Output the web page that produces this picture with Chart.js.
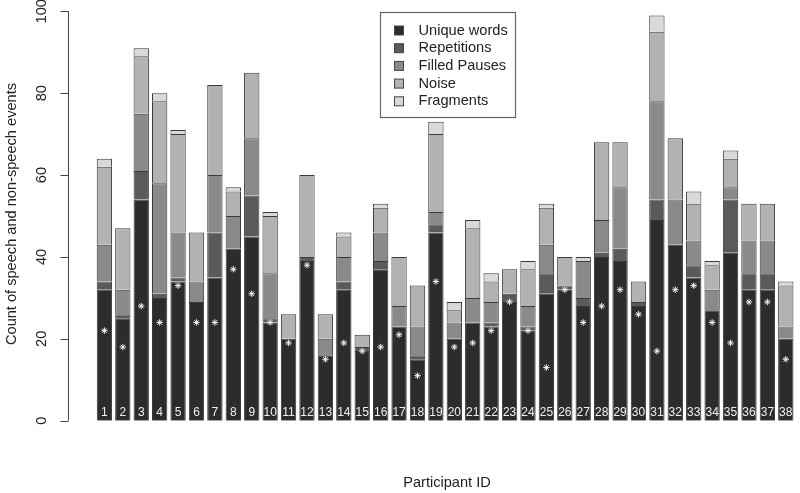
<!DOCTYPE html>
<html><head><meta charset="utf-8">
<script src="https://cdn.jsdelivr.net/npm/chart.js@4"></script>
<style>html,body{margin:0;padding:0;background:#fff}canvas{display:block}</style>
</head><body><canvas id="c" width="800" height="493"></canvas>
<script>
const participants = ['1','2','3','4','5','6','7','8','9','10','11','12','13','14','15','16','17','18','19','20','21','22','23','24','25','26','27','28','29','30','31','32','33','34','35','36','37','38'];
const uniqueWords  = [32,25,54,30,34,29,35,42,45,24,20,39,16,32,17,37,23,15,46,20,24,23,29,22,31,32,28,40,39,28,49,43,35,27,41,32,32,20];
const repetitions  = [2,1,7,1,1,0,11,0,10,1,0,1,0,2,1,2,0,1,2,0,0,1,2,1,5,1,2,1,3,1,5,0,3,0,13,4,4,0];
const filledPauses = [9,6,14,27,11,5,14,8,14,11,0,0,4,6,0,7,5,7,3,4,6,5,0,5,7,0,9,8,15,0,24,11,6,5,3,8,8,3];
const noise        = [19,15,14,20,24,12,22,6,16,14,6,20,6,5,3,6,12,10,19,3,17,5,6,9,9,7,0,19,11,5,17,15,9,6,7,9,9,10];
const fragments    = [2,0,2,2,1,0,0,1,0,1,0,0,0,1,0,1,0,0,3,2,2,2,0,2,1,0,1,0,0,0,4,0,3,1,2,0,0,1];
const asteriskValues = [22,18,28,24,33,24,24,37,31,24,19,38,15,19,17,18,21,11,34,18,19,22,29,22,13,32,24,28,32,26,17,32,33,24,19,29,29,15];
const seriesNames = ['Unique words','Repetitions','Filled Pauses','Noise','Fragments'];
const yTickValues = [0,20,40,60,80,100];

const colors = ['#2c2c2c','#5a5a5a','#8a8a8a','#b2b2b2','#d9d9d9'];
const FONT = '"Liberation Sans", Arial, Helvetica, sans-serif';
const seriesData = [uniqueWords, repetitions, filledPauses, noise, fragments];

const datasets = seriesData.map((d,i)=>({
  type:'bar', label: seriesNames[i], data: d, backgroundColor: colors[i],
  borderColor:'#3a3a3a', borderWidth:1, borderSkipped:'start', stack:'s', yAxisID:'y', order:1
}));
datasets.push({
  type:'line', label:'asterisk', data: asteriskValues, yAxisID:'y2', showLine:false,
  pointStyle:'star', pointRadius:3.2, pointBorderColor:'#f2f2f2', pointBackgroundColor:'#f2f2f2',
  pointBorderWidth:1, order:0
});

const overlay = {
  id:'overlay',
  afterDraw(chart){
    const ctx = chart.ctx, x = chart.scales.x, y = chart.scales.y;
    ctx.save();
    // participant IDs inside bars
    ctx.fillStyle = '#f0f0f0';
    ctx.font = '12px ' + FONT;
    ctx.textAlign = 'center'; ctx.textBaseline = 'middle';
    participants.forEach((p,i)=>{
      ctx.fillText(p, x.getPixelForValue(i), y.getPixelForValue(0) - 8);
    });
    // y axis
    const ax = 68.5;
    ctx.strokeStyle = '#444'; ctx.lineWidth = 1;
    ctx.beginPath();
    ctx.moveTo(ax, y.getPixelForValue(yTickValues[0]));
    ctx.lineTo(ax, y.getPixelForValue(yTickValues[yTickValues.length-1]));
    yTickValues.forEach(v=>{
      const py = Math.round(y.getPixelForValue(v)) + 0.5;
      ctx.moveTo(ax, py); ctx.lineTo(ax - 8, py);
    });
    ctx.stroke();
    ctx.fillStyle = '#222';
    ctx.font = '14.6px ' + FONT;
    yTickValues.forEach(v=>{
      const py = y.getPixelForValue(v);
      ctx.save(); ctx.translate(41.5, py); ctx.rotate(-Math.PI/2);
      ctx.textAlign='center'; ctx.textBaseline='middle';
      ctx.fillText(String(v), 0, 0); ctx.restore();
    });
    // axis titles
    ctx.save(); ctx.translate(12, 214); ctx.rotate(-Math.PI/2);
    ctx.textAlign='center'; ctx.textBaseline='middle';
    ctx.fillText('Count of speech and non-speech events', 0, 0); ctx.restore();
    ctx.textAlign='center'; ctx.textBaseline='middle';
    ctx.fillText('Participant ID', 447, 483);
    // legend
    ctx.fillStyle = '#fff';
    ctx.fillRect(380.5, 12.5, 135, 105);
    ctx.strokeStyle = '#666'; ctx.lineWidth = 1.2;
    ctx.strokeRect(380.5, 12.5, 135, 105);
    const rows = [30.5, 48.2, 65.9, 83.6, 101.3];
    ctx.textAlign='left';
    seriesNames.forEach((n,i)=>{
      ctx.fillStyle = colors[i];
      ctx.fillRect(394, rows[i]-4.5, 9, 9);
      ctx.strokeStyle = '#444'; ctx.lineWidth = 1;
      ctx.strokeRect(394.5, rows[i]-4.5, 9, 9);
      ctx.fillStyle = '#222';
      ctx.fillText(n, 418.5, rows[i]);
    });
    ctx.restore();
  }
};

new Chart(document.getElementById('c'), {
  data: { labels: participants, datasets },
  options: {
    responsive:false, animation:false,
    layout:{ padding:{ left:95.2, right:0.3, top:11.3, bottom:72.3 } },
    plugins:{ legend:{display:false}, tooltip:{enabled:false} },
    scales:{
      x:{ display:false, stacked:true, offset:true, grid:{display:false} },
      y:{ display:false, stacked:true, min:0, max:100, ticks:{stepSize:20} },
      y2:{ display:false, min:0, max:100 }
    },
    datasets:{ bar:{ categoryPercentage:0.833, barPercentage:1 } }
  },
  plugins:[overlay]
});
</script></body></html>
